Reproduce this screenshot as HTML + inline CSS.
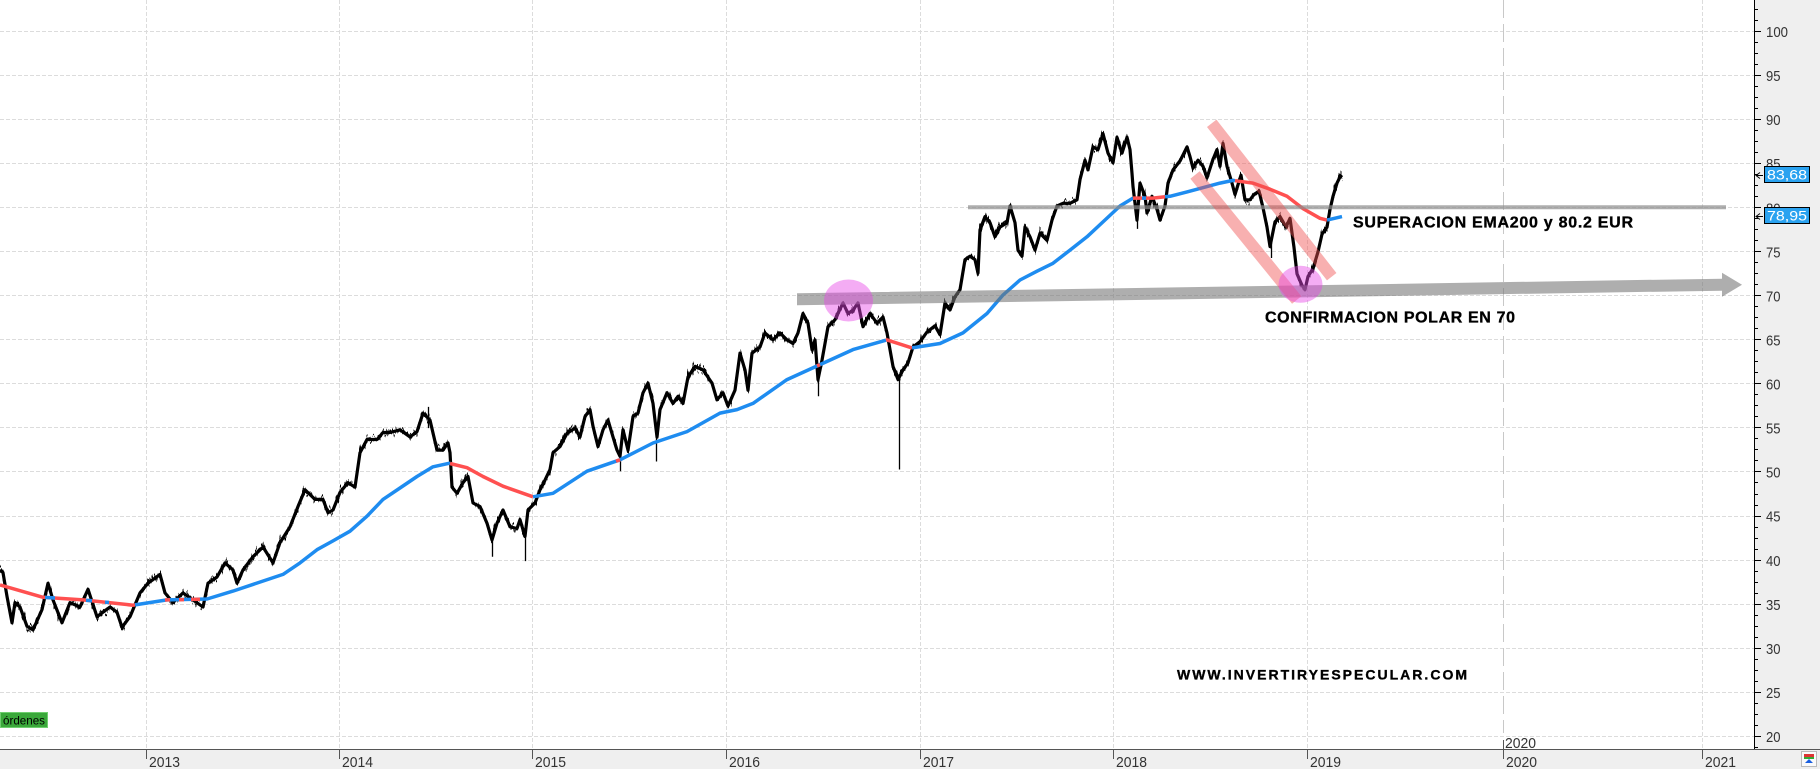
<!DOCTYPE html>
<html><head><meta charset="utf-8">
<style>
html,body{margin:0;padding:0;background:#fff;}
body{width:1820px;height:769px;overflow:hidden;}
svg{display:block;font-family:"Liberation Sans",Arial,sans-serif;}
</style></head><body>
<svg xmlns="http://www.w3.org/2000/svg" width="1820" height="769" viewBox="0 0 1820 769">
<defs>
<filter id="jit" x="-2%" y="-15%" width="104%" height="130%" color-interpolation-filters="sRGB">
  <feTurbulence type="fractalNoise" baseFrequency="0.45 0.012" numOctaves="2" seed="7" result="t"/>
  <feComponentTransfer in="t" result="t2">
    <feFuncR type="linear" slope="0" intercept="0.5"/>
    <feFuncA type="linear" slope="0" intercept="1"/>
  </feComponentTransfer>
  <feDisplacementMap in="SourceGraphic" in2="t2" scale="20" xChannelSelector="R" yChannelSelector="G"/>
</filter>
<filter id="jit2" x="-2%" y="-15%" width="104%" height="130%" color-interpolation-filters="sRGB">
  <feTurbulence type="fractalNoise" baseFrequency="0.7 0.02" numOctaves="1" seed="21" result="t"/>
  <feComponentTransfer in="t" result="t2">
    <feFuncR type="linear" slope="0" intercept="0.5"/>
    <feFuncA type="linear" slope="0" intercept="1"/>
  </feComponentTransfer>
  <feDisplacementMap in="SourceGraphic" in2="t2" scale="14" xChannelSelector="R" yChannelSelector="G"/>
</filter>
</defs>
<rect x="0" y="0" width="1820" height="769" fill="#fff"/>
<rect x="1754" y="0" width="66" height="769" fill="#efefef"/>
<rect x="0" y="749" width="1820" height="20" fill="#efefef"/>
<g stroke="#dcdcdc" stroke-width="1" stroke-dasharray="4 2" fill="none">
<path d="M0 31.5H1754M0 75.5H1754M0 119.5H1754M0 163.5H1754M0 207.5H1754M0 251.5H1754M0 295.5H1754M0 339.5H1754M0 383.5H1754M0 427.5H1754M0 471.5H1754M0 516.5H1754M0 560.5H1754M0 604.5H1754M0 648.5H1754M0 692.5H1754M0 736.5H1754"/>
<path d="M146.5 0V749M339.5 0V749M532.5 0V749M726.5 0V749M920.5 0V749M1113.5 0V749M1307.5 0V749M1702.5 0V749"/>
</g>
<line x1="1503.5" y1="0" x2="1503.5" y2="733" stroke="#c8c8c8" stroke-width="1" stroke-dasharray="18 6"/>
<line x1="1503.5" y1="740" x2="1503.5" y2="749" stroke="#555" stroke-width="1"/>
<text x="1505" y="748" font-size="15" fill="#333" textLength="31" lengthAdjust="spacingAndGlyphs">2020</text>

<!-- price series -->
<g stroke-width="3.2">
<polyline id="pr" fill="none" stroke="#000" stroke-linejoin="round" points="0,569.9 3,572.6 7,596.4 12,622.8 15,602.6 20,607.0 27,626.3 33,629.9 42,609.6 48,583.2 53,599.9 62,622.8 70,602.6 80,607.0 88,589.3 97,616.7 103,612.2 110,607.0 117,612.2 122,627.2 130,616.7 140,592.9 148,583.2 160,574.4 165,592.9 173,602.6 183,592.9 193,599.9 203,607.0 208,583.2 217,577.0 225,562.9 233,569.9 237,583.2 243,569.9 253,556.7 263,547.0 273,562.9 280,542.6 290,526.8 298,506.5 305,489.8 315,499.4 323,499.4 328,512.7 333,510.0 340,492.4 348,482.7 355,487.1 360,452.7 367,439.5 377,439.5 383,432.5 390,432.5 400,429.8 410,436.9 417,431.6 423,413.1 430,420.1 437,450.1 443,450.1 448,443.0 450,452.7 452,487.1 457,493.3 463,482.7 468,476.5 473,503.0 480,506.5 487,523.2 492,540.0 497,523.2 503,510.0 510,526.8 517,528.5 520,519.7 525,536.5 528,510.0 535,503.0 540,489.8 545,480.1 550,469.5 553,452.7 560,446.6 567,433.4 575,428.1 580,436.9 585,416.6 590,409.6 593,426.3 598,446.6 603,429.8 608,420.1 613,436.9 617,450.1 620,456.3 623,429.8 628,450.1 633,416.6 638,413.1 643,392.8 648,383.1 653,403.4 657,436.9 660,409.6 667,392.8 673,403.4 678,396.3 683,403.4 688,377.0 695,366.4 703,369.9 712,383.1 717,399.9 723,392.8 728,406.0 735,390.2 740,353.2 745,369.9 748,390.2 752,353.2 760,347.0 765,332.9 773,339.9 780,332.9 787,339.9 793,343.5 798,332.9 803,313.5 808,323.2 812,349.6 815,339.9 818,379.6 822,360.2 825,343.5 828,326.7 835,319.7 843,302.9 848,313.5 853,310.0 858,302.9 863,326.7 870,313.5 877,323.2 883,317.0 887,332.9 890,349.6 893,366.4 898,379.6 903,369.9 908,362.9 913,347.0 920,341.7 927,332.0 935,325.8 940,334.7 945,302.9 950,310.0 955,296.8 960,289.7 965,259.7 970,256.2 975,259.7 978,273.0 980,229.8 985,216.6 990,222.7 995,236.8 1000,227.1 1007,222.7 1010,206.0 1015,222.7 1018,250.1 1022,256.2 1025,227.1 1030,236.8 1035,250.1 1040,233.3 1047,240.4 1052,220.1 1057,206.0 1063,203.3 1070,203.3 1077,199.8 1080,179.6 1085,160.2 1088,169.9 1093,146.9 1098,149.6 1103,133.7 1108,153.1 1113,162.8 1117,137.3 1122,153.1 1127,137.3 1130,149.6 1132,173.4 1133,186.6 1137,220.1 1140,183.1 1145,196.3 1147,213.0 1152,196.3 1157,209.5 1160,220.1 1165,206.0 1168,183.1 1173,169.9 1180,161.0 1187,146.9 1190,156.6 1193,168.1 1198,160.2 1203,166.3 1207,177.8 1213,159.3 1217,149.6 1220,166.3 1223,143.4 1227,166.3 1232,183.1 1235,194.5 1241,175.1 1245,199.8 1250,199.8 1254,194.5 1259,191.0 1263,207.8 1267,227.1 1270,246.5 1275,221.9 1280,216.6 1286,227.1 1290,218.3 1294,247.4 1297,273.8 1302,285.3 1305,289.7 1308,276.5 1313,268.6 1318,251.8 1322,234.2 1327,227.1 1330,209.5 1333,196.3 1337,183.1 1340,176.9 1342,175.1"/>
</g>
<use href="#pr" filter="url(#jit)" stroke-width="1.6"/>
<use href="#pr" filter="url(#jit2)" stroke-width="1.6"/>
<path d="M899.5 375.2V469.5M818.5 366.4V396.3M656.5 436.9V461.5M428.5 428.1V406.9M1271.5 243V258M492.5 533.8V556.7M525.5 533.8V561.1M620.5 454.5V471.2M1137.5 216.6V228.9" stroke="#000" stroke-width="1.3" fill="none"/>

<!-- EMA 200 -->
<g fill="none" stroke-width="3.5" stroke-linejoin="round">
<polyline stroke="#ff5050" points="0,584.9 43,597.3 83,599.9 133,605.2 135,604.9"/>
<polyline stroke="#1e8cf0" points="45,597.4 55,598.0"/>
<polyline stroke="#1e8cf0" points="86,600.2 92,600.8"/>
<polyline stroke="#1e8cf0" points="105,602.1 109,602.5"/>
<polyline stroke="#1e8cf0" points="135,604.9 167,599.9 207,599.0 233,591.1 283,574.4 300,562.9 317,549.7 333,540.9 350,531.2 367,516.2 383,499.4 400,488.0 417,476.5 433,466.8 449,463.3 450,463.5"/>
<polyline stroke="#ff5050" points="165,600.0 170,599.8"/>
<polyline stroke="#ff5050" points="179,599.7 184,599.6"/>
<polyline stroke="#ff5050" points="191,599.4 200,599.2"/>
<polyline stroke="#ff5050" points="450,463.5 467,467.7 483,476.5 503,486.2 533,496.8"/>
<polyline stroke="#1e8cf0" points="533,496.8 553,493.3 587,471.2 620,459.8 653,443.0 687,431.6 720,413.1 737,409.6 753,403.4 787,379.6 820,364.6 853,349.6 886,340.2"/>
<polyline stroke="#ff5050" points="616,461.2 620,459.8"/>
<polyline stroke="#ff5050" points="817,366.0 820,364.6"/>
<polyline stroke="#ff5050" points="886,340.2 887,339.9 912,347.9"/>
<polyline stroke="#1e8cf0" points="912,347.9 940,343.5 963,332.9 987,313.5 1003,295.0 1020,280.0 1037,271.2 1053,263.3 1070,250.1 1087,236.8 1103,221.9 1120,206.0 1133,198.1"/>
<polyline stroke="#ff5050" points="1133,198.1 1153,198.1 1165,196.8"/>
<polyline stroke="#1e8cf0" points="1142,198.1 1146,198.1"/>
<polyline stroke="#1e8cf0" points="1165,196.8 1170,196.3 1187,191.9 1207,186.6 1220,183.1 1233,180.4 1235,180.7"/>
<polyline stroke="#ff5050" points="1235,180.7 1253,183.1 1270,189.2 1287,196.3 1303,208.6 1320,218.3 1327,220.1"/>
<polyline stroke="#1e8cf0" points="1327,220.1 1342,216.6"/>
</g>

<!-- annotations -->
<line x1="968" y1="207.3" x2="1726" y2="207.3" stroke="#8c8c8c" stroke-opacity="0.7" stroke-width="4"/>
<polygon points="797,293.3 1722,278.7 1722,272.7 1742,284.7 1722,296.7 1722,290.7 797,305.3" fill="rgb(115,115,115)" fill-opacity="0.58"/>
<line x1="1211.7" y1="123.3" x2="1331.7" y2="276.7" stroke="rgb(240,80,80)" stroke-opacity="0.45" stroke-width="12"/>
<line x1="1195" y1="175" x2="1296.7" y2="300" stroke="rgb(240,80,80)" stroke-opacity="0.45" stroke-width="12"/>
<ellipse cx="848.5" cy="300.5" rx="24.5" ry="21" fill="rgb(230,70,230)" fill-opacity="0.45"/>
<ellipse cx="1300.5" cy="284.3" rx="22" ry="18.5" fill="rgb(230,70,230)" fill-opacity="0.45"/>

<g font-weight="bold" fill="#000" stroke="#000" stroke-width="0.35">
<text x="1353" y="227.5" font-size="16" textLength="280" lengthAdjust="spacing">SUPERACION EMA200 y 80.2 EUR</text>
<text x="1265" y="322.3" font-size="16" textLength="250" lengthAdjust="spacing">CONFIRMACION POLAR EN 70</text>
<text x="1177" y="679.5" font-size="14" textLength="290" lengthAdjust="spacing">WWW.INVERTIRYESPECULAR.COM</text>
</g>

<rect x="0.5" y="712.5" width="47" height="15" fill="#3aa83a" stroke="#6fcf6f" stroke-width="1"/>
<text x="3" y="724.5" font-size="12" fill="#000" textLength="42" lengthAdjust="spacingAndGlyphs">órdenes</text>

<!-- axes -->
<line x1="0" y1="749.5" x2="1820" y2="749.5" stroke="#555" stroke-width="1"/>
<line x1="1754.5" y1="0" x2="1754.5" y2="749" stroke="#000" stroke-width="1"/>
<path stroke="#000" stroke-width="1" fill="none" d="M1754 31.5H1761M1754 75.5H1761M1754 119.5H1761M1754 163.5H1761M1754 207.5H1761M1754 251.5H1761M1754 295.5H1761M1754 339.5H1761M1754 383.5H1761M1754 427.5H1761M1754 471.5H1761M1754 516.5H1761M1754 560.5H1761M1754 604.5H1761M1754 648.5H1761M1754 692.5H1761M1754 736.5H1761M1754 9.5H1758M1754 20.5H1758M1754 42.5H1758M1754 53.5H1758M1754 64.5H1758M1754 86.5H1758M1754 97.5H1758M1754 108.5H1758M1754 130.5H1758M1754 141.5H1758M1754 152.5H1758M1754 174.5H1758M1754 185.5H1758M1754 196.5H1758M1754 218.5H1758M1754 229.5H1758M1754 240.5H1758M1754 262.5H1758M1754 273.5H1758M1754 284.5H1758M1754 306.5H1758M1754 317.5H1758M1754 328.5H1758M1754 350.5H1758M1754 361.5H1758M1754 372.5H1758M1754 394.5H1758M1754 405.5H1758M1754 416.5H1758M1754 438.5H1758M1754 449.5H1758M1754 460.5H1758M1754 482.5H1758M1754 494.5H1758M1754 505.5H1758M1754 527.5H1758M1754 538.5H1758M1754 549.5H1758M1754 571.5H1758M1754 582.5H1758M1754 593.5H1758M1754 615.5H1758M1754 626.5H1758M1754 637.5H1758M1754 659.5H1758M1754 670.5H1758M1754 681.5H1758M1754 703.5H1758M1754 714.5H1758M1754 725.5H1758M1754 747.5H1758"/>
<path stroke="#555" stroke-width="1" fill="none" d="M146.5 749V759M339.5 749V759M532.5 749V759M726.5 749V759M920.5 749V759M1113.5 749V759M1307.5 749V759M1503.5 749V759M1702.5 749V759"/>
<g font-size="15" fill="#333">
<text x="149" y="767" textLength="31" lengthAdjust="spacingAndGlyphs">2013</text>
<text x="342" y="767" textLength="31" lengthAdjust="spacingAndGlyphs">2014</text>
<text x="535" y="767" textLength="31" lengthAdjust="spacingAndGlyphs">2015</text>
<text x="729" y="767" textLength="31" lengthAdjust="spacingAndGlyphs">2016</text>
<text x="923" y="767" textLength="31" lengthAdjust="spacingAndGlyphs">2017</text>
<text x="1116" y="767" textLength="31" lengthAdjust="spacingAndGlyphs">2018</text>
<text x="1310" y="767" textLength="31" lengthAdjust="spacingAndGlyphs">2019</text>
<text x="1506" y="767" textLength="31" lengthAdjust="spacingAndGlyphs">2020</text>
<text x="1705" y="767" textLength="31" lengthAdjust="spacingAndGlyphs">2021</text>
</g>
<g font-size="15" fill="#333">
<text x="1766" y="37" textLength="22" lengthAdjust="spacingAndGlyphs">100</text>
<text x="1766" y="81.1" textLength="14.5" lengthAdjust="spacingAndGlyphs">95</text>
<text x="1766" y="125.1" textLength="14.5" lengthAdjust="spacingAndGlyphs">90</text>
<text x="1766" y="169.2" textLength="14.5" lengthAdjust="spacingAndGlyphs">85</text>
<text x="1766" y="213.3" textLength="14.5" lengthAdjust="spacingAndGlyphs">80</text>
<text x="1766" y="257.3" textLength="14.5" lengthAdjust="spacingAndGlyphs">75</text>
<text x="1766" y="301.4" textLength="14.5" lengthAdjust="spacingAndGlyphs">70</text>
<text x="1766" y="345.5" textLength="14.5" lengthAdjust="spacingAndGlyphs">65</text>
<text x="1766" y="389.5" textLength="14.5" lengthAdjust="spacingAndGlyphs">60</text>
<text x="1766" y="433.6" textLength="14.5" lengthAdjust="spacingAndGlyphs">55</text>
<text x="1766" y="477.6" textLength="14.5" lengthAdjust="spacingAndGlyphs">50</text>
<text x="1766" y="521.7" textLength="14.5" lengthAdjust="spacingAndGlyphs">45</text>
<text x="1766" y="565.8" textLength="14.5" lengthAdjust="spacingAndGlyphs">40</text>
<text x="1766" y="609.8" textLength="14.5" lengthAdjust="spacingAndGlyphs">35</text>
<text x="1766" y="653.9" textLength="14.5" lengthAdjust="spacingAndGlyphs">30</text>
<text x="1766" y="697.9" textLength="14.5" lengthAdjust="spacingAndGlyphs">25</text>
<text x="1766" y="742" textLength="14.5" lengthAdjust="spacingAndGlyphs">20</text>
</g>
<!-- last value boxes -->
<path d="M1763 175.5H1756M1760 172.5L1756 175.5L1760 178.5M1763 216.5H1756M1760 213.5L1756 216.5L1760 219.5" stroke="#000" stroke-width="1" fill="none"/>
<rect x="1764.5" y="166.5" width="45" height="16" fill="#2aa2f0" stroke="#000" stroke-width="1"/>
<text x="1767" y="179.5" font-size="14" fill="#fff" textLength="40" lengthAdjust="spacingAndGlyphs">83,68</text>
<rect x="1764.5" y="207.5" width="45" height="16" fill="#2aa2f0" stroke="#000" stroke-width="1"/>
<text x="1767" y="220.5" font-size="14" fill="#fff" textLength="40" lengthAdjust="spacingAndGlyphs">78,95</text>
<!-- corner icon -->
<rect x="1801.5" y="751.5" width="15" height="15" fill="#fafafa" stroke="#bbb"/>
<rect x="1804" y="754" width="10" height="3" fill="#d33"/>
<rect x="1804" y="757" width="10" height="2" fill="#3a3"/>
<polygon points="1809,759 1813,763 1805,763" fill="#1a5fe0"/>
</svg>
</body></html>
